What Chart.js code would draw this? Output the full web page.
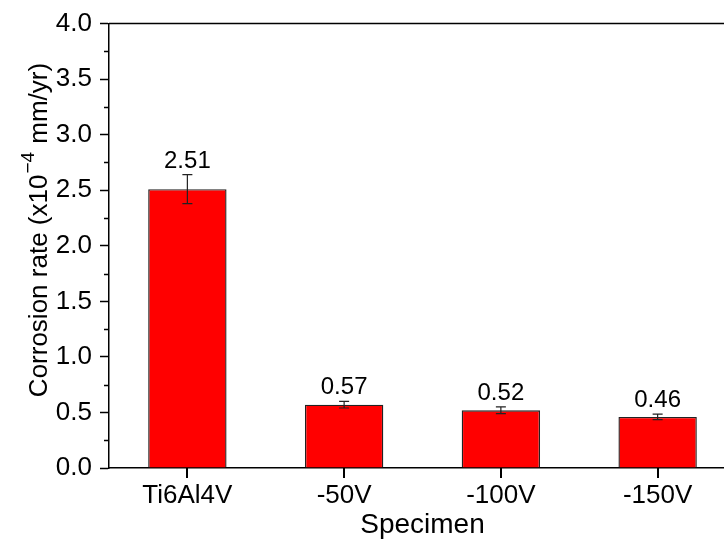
<!DOCTYPE html>
<html>
<head>
<meta charset="utf-8">
<script src="https://cdn.jsdelivr.net/npm/chart.js@4/dist/chart.umd.min.js"></script>
<style>
  html, body { margin: 0; padding: 0; background: #fff; overflow: hidden; }
  #wrap { width: 750px; height: 539px; }
</style>
</head>
<body>
<div id="wrap"><canvas id="c" width="750" height="539"></canvas></div>
<script>
// Corrosion rate of the bare alloy and the coated specimens (bias voltage)
const categories = ['Ti6Al4V', '-50V', '-100V', '-150V'];
const corrosionRate = [2.51, 0.57, 0.52, 0.46];
const rateError = [0.13, 0.03, 0.03, 0.025];
const yTicks = [0, 0.5, 1.0, 1.5, 2.0, 2.5, 3.0, 3.5, 4.0];

const FONT = '"Liberation Sans", Arial, sans-serif';
const AXIS_COLOR = '#000';

// error bars, value labels, minor ticks, category ticks, frame and axis titles
const decorations = {
  id: 'decorations',
  afterDatasetsDraw(chart) {
    const ctx = chart.ctx;
    const ys = chart.scales.y;
    const meta = chart.getDatasetMeta(0);
    ctx.save();
    meta.data.forEach((bar, i) => {
      const v = corrosionRate[i], e = rateError[i];
      const x = bar.x;
      const yTop = ys.getPixelForValue(v + e);
      const yBot = ys.getPixelForValue(v - e);
      ctx.strokeStyle = '#222';
      ctx.lineWidth = 1.2;
      ctx.beginPath();
      ctx.moveTo(x, yTop); ctx.lineTo(x, yBot);
      ctx.moveTo(x - 5, yTop); ctx.lineTo(x + 5, yTop);
      ctx.moveTo(x - 5, yBot); ctx.lineTo(x + 5, yBot);
      ctx.stroke();
      ctx.fillStyle = '#000';
      ctx.font = '24px ' + FONT;
      ctx.textAlign = 'center';
      ctx.textBaseline = 'alphabetic';
      ctx.fillText(v.toFixed(2), x, yTop - 7);
    });
    ctx.restore();
  },
  afterDraw(chart) {
    const ctx = chart.ctx;
    const a = chart.chartArea;
    const ys = chart.scales.y;
    const xs = chart.scales.x;
    ctx.save();
    ctx.strokeStyle = AXIS_COLOR;
    ctx.lineWidth = 1.5;
    ctx.beginPath();
    // minor ticks on the value axis
    for (let v = 0.25; v < 4; v += 0.5) {
      const y = Math.round(ys.getPixelForValue(v)) + 0.5;
      ctx.moveTo(a.left - 5, y); ctx.lineTo(a.left, y);
    }
    // top frame line
    ctx.moveTo(a.left, a.top); ctx.lineTo(a.right, a.top);
    ctx.stroke();

    // category ticks below the axis
    ctx.lineWidth = 2;
    ctx.beginPath();
    for (let i = 0; i < categories.length; i++) {
      const x = Math.round(xs.getPixelForValue(i));
      ctx.moveTo(x, a.bottom);
      ctx.lineTo(x, a.bottom + 10);
    }
    ctx.stroke();

    // x axis title, centred between the first and last category
    ctx.fillStyle = '#000';
    ctx.textBaseline = 'alphabetic';
    ctx.font = '28px ' + FONT;
    ctx.textAlign = 'center';
    const xMid = (xs.getPixelForValue(0) + xs.getPixelForValue(categories.length - 1)) / 2;
    ctx.fillText('Specimen', xMid, 533);

    // rotated y title with superscript exponent
    ctx.translate(47, 231);
    ctx.rotate(-Math.PI / 2);
    const part1 = 'Corrosion rate (x10';
    const sup = '\u22124';
    const part2 = ' mm/yr)';
    ctx.font = '26px ' + FONT;
    const w1 = ctx.measureText(part1).width;
    const w3 = ctx.measureText(part2).width;
    ctx.font = '19px ' + FONT;
    const w2 = ctx.measureText(sup).width;
    let x = -(w1 + w2 + w3) / 2;
    ctx.textAlign = 'left';
    ctx.font = '26px ' + FONT;
    ctx.fillText(part1, x, 0);
    x += w1;
    ctx.font = '19px ' + FONT;
    ctx.fillText(sup, x + 1, -13);
    x += w2 + 2;
    ctx.font = '26px ' + FONT;
    ctx.fillText(part2, x, 0);
    ctx.restore();
  }
};

new Chart(document.getElementById('c'), {
  type: 'bar',
  data: {
    labels: categories,
    datasets: [{
      data: corrosionRate,
      backgroundColor: '#ff0000',
      borderColor: '#222',
      borderWidth: 1.4,
      barPercentage: 0.5,
      categoryPercentage: 1.0
    }]
  },
  options: {
    responsive: false,
    animation: false,
    devicePixelRatio: 1,
    layout: { padding: { top: 23, right: 750 - 736, left: 0, bottom: 0 } },
    plugins: { legend: { display: false }, tooltip: { enabled: false } },
    scales: {
      x: {
        afterFit(scale) { scale.height = 539 - 468; },
        grid: { display: true, drawOnChartArea: false, drawTicks: false, tickLength: 9 },
        border: { display: true, color: AXIS_COLOR, width: 1.5 },
        ticks: { color: '#000', font: { family: FONT, size: 26 }, padding: 12 }
      },
      y: {
        min: 0, max: 4,
        afterFit(scale) { scale.width = 109; },
        afterBuildTicks(scale) { scale.ticks = yTicks.map(v => ({ value: v })); },
        grid: { drawOnChartArea: false, drawTicks: true, tickLength: 9, tickColor: AXIS_COLOR, tickWidth: 1.5 },
        border: { display: true, color: AXIS_COLOR, width: 1.5 },
        ticks: {
          color: '#000', font: { family: FONT, size: 26 }, padding: 8,
          callback: v => Number(v).toFixed(1)
        }
      }
    }
  },
  plugins: [decorations]
});
</script>
</body>
</html>
